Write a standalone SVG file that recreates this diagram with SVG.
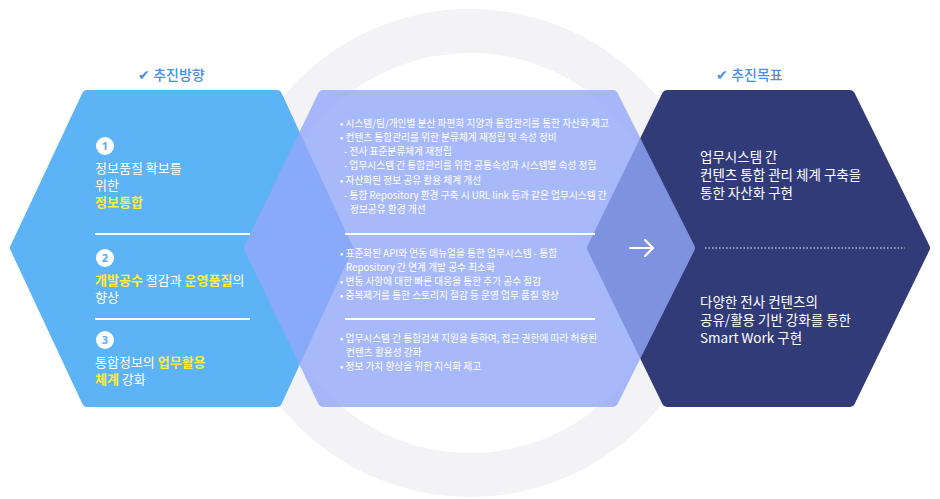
<svg xmlns="http://www.w3.org/2000/svg" width="940" height="499" viewBox="0 0 940 499">
<style>
.h{font-family:"Noto Sans CJK KR","Noto Sans",sans-serif;font-size:14px;fill:#4a8fe0;font-weight:500}
.l{font-family:"Noto Sans CJK KR",sans-serif;font-size:13px;fill:#fff}
.y{fill:#ffee33;font-weight:700}
.m{font-family:"Noto Sans CJK KR",sans-serif;font-size:9.7px;fill:#fff}
.r{font-family:"Noto Sans CJK KR",sans-serif;font-size:13.5px;fill:#fff}
.div{stroke:#fff;stroke-width:2}
.num{font-family:"Noto Sans",sans-serif;font-size:11px;font-weight:700;fill:#5aaef5;text-anchor:middle}
</style>
<rect width="940" height="499" fill="#fff"/>
<circle cx="470" cy="253" r="222" fill="none" stroke="#f3f3f6" stroke-width="44"/>
<text class="h" x="138" y="80">✔ 추진방향</text>
<text class="h" x="716" y="80">✔ 추진목표</text>
<g id="left">
<polygon points="87,95 277,95 348,248 277,402 87,402 15,248" fill="#5cb3f6" stroke="#5cb3f6" stroke-width="10" stroke-linejoin="round"/>
<circle cx="105" cy="146" r="9" fill="#fff"/><text class="num" x="105" y="150">1</text>
<text class="l" x="95" y="173">정보품질 확보를</text>
<text class="l" x="95" y="190">위한</text>
<text class="l y" x="95" y="207">정보통합</text>
<line class="div" x1="95" y1="234" x2="250" y2="234"/>
<circle cx="105" cy="258" r="9" fill="#fff"/><text class="num" x="105" y="262">2</text>
<text class="l" x="95" y="285"><tspan class="y">개발공수</tspan> 절감과 <tspan class="y">운영품질</tspan>의</text>
<text class="l" x="95" y="302">향상</text>
<line class="div" x1="95" y1="319" x2="250" y2="319"/>
<circle cx="105" cy="340" r="9" fill="#fff"/><text class="num" x="105" y="344">3</text>
<text class="l" x="95" y="367">통합정보의 <tspan class="y">업무활용</tspan></text>
<text class="l" x="95" y="384"><tspan class="y">체계</tspan> 강화</text>
</g>
<g id="right">
<polygon points="667,95 850,95 925,248 850,402 667,402 592,248" fill="#313b78" stroke="#313b78" stroke-width="10" stroke-linejoin="round"/>
<text class="r" x="700" y="162">업무시스템 간</text>
<text class="r" x="700" y="180">컨텐츠 통합 관리 체계 구축을</text>
<text class="r" x="700" y="198">통한 자산화 구현</text>
<line x1="705" y1="248" x2="905" y2="248" stroke="#fff" stroke-width="1.2" stroke-dasharray="1.5 2"/>
<text class="r" x="700" y="307">다양한 전사 컨텐츠의</text>
<text class="r" x="700" y="325">공유/활용 기반 강화를 통한</text>
<text class="r" x="700" y="343">Smart Work 구현</text>
</g>
<g id="middle">
<g opacity="0.8"><polygon points="323,95 613,95 690,248 613,402 323,402 249,248" fill="#93a8fa" stroke="#93a8fa" stroke-width="10" stroke-linejoin="round"/></g>
<text class="m" x="340" y="127">• 시스템/팀/개인별 분산 파편화 지양과 통합관리를 통한 자산화 제고</text>
<text class="m" x="340" y="141">• 컨텐츠 통합관리를 위한 분류체계 재정립 및 속성 정비</text>
<text class="m" x="344" y="155">- 전사 표준분류체계 재정립</text>
<text class="m" x="344" y="169">- 업무시스템 간 통합관리를 위한 공통속성과 시스템별 속성 정립</text>
<text class="m" x="340" y="184">• 자산화된 정보 공유 활용 체계 개선</text>
<text class="m" x="344" y="199">- 통합 Repository 환경 구축 시 URL link 등과 같은 업무시스템 간</text>
<text class="m" x="350" y="213">정보공유 환경 개선</text>
<line class="div" x1="345" y1="234" x2="595" y2="234"/>
<text class="m" x="340" y="257">• 표준화된 API와 연동 매뉴얼을 통한 업무시스템 - 통합</text>
<text class="m" x="346" y="271">Repository 간 연계 개발 공수 최소화</text>
<text class="m" x="340" y="285">• 변동 사항에 대한 빠른 대응을 통한 추가 공수 절감</text>
<text class="m" x="340" y="299">• 중복제거를 통한 스토리지 절감 등 운영 업무 품질 향상</text>
<line class="div" x1="345" y1="319" x2="595" y2="319"/>
<text class="m" x="340" y="342">• 업무시스템 간 통합검색 지원을 통하여, 접근 권한에 따라 허용된</text>
<text class="m" x="346" y="356">컨텐츠 활용성 강화</text>
<text class="m" x="340" y="370">• 정보 가치 향상을 위한 지식화 제고</text>
</g>
<g id="connectors">
<path d="M630 248 H652 M645 240 L653 248 L645 256" fill="none" stroke="#fff" stroke-width="2.2" stroke-linecap="round" stroke-linejoin="round"/>
</g>
</svg>
